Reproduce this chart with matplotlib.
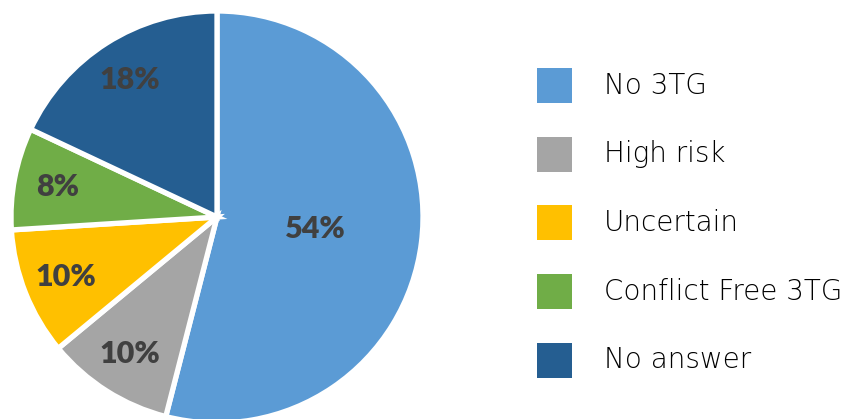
import matplotlib
matplotlib.use("Agg")
import matplotlib.pyplot as plt
from matplotlib.patches import Rectangle
import numpy as np

# data
categories = ["No 3TG", "High risk", "Uncertain", "Conflict Free 3TG", "No answer"]
shares = [54, 10, 10, 8, 18]
colors = ["#5B9BD5", "#A5A5A5", "#FFC000", "#70AD47", "#255E91"]

W, H = 865, 419
fig = plt.figure(figsize=(W / 100, H / 100), dpi=100)
ax = fig.add_axes([0, 0, 1, 1])

cx, cy, r = 217, H - 217, 206
wedges, _ = ax.pie(shares, colors=colors, startangle=90, counterclock=False,
                   center=(cx, cy), radius=r, frame=True,
                   wedgeprops=dict(edgecolor="white", linewidth=3.8))
ax.set_xlim(0, W); ax.set_ylim(0, H)
ax.set_aspect("equal")
ax.axis("off")

# percentage labels, big slice placed nearer the centre
for i, (w, v) in enumerate(zip(wedges, shares)):
    mid = np.deg2rad((w.theta1 + w.theta2) / 2)
    d = 0.48 if v > 50 else 0.79
    ax.text(cx + d * r * np.cos(mid), cy + d * r * np.sin(mid), f"{v}%",
            ha="center", va="center", fontsize=22, fontweight="heavy",
            family="Lato", color="#404040")

# legend, drawn by hand
for i, (lab, col) in enumerate(zip(categories, colors)):
    yc = H - (85.5 + i * 68.75)
    ax.add_patch(Rectangle((537, yc - 17.5), 35, 35, facecolor=col, edgecolor="none"))
    ax.text(604, yc, lab, ha="left", va="center", fontsize=20,
            family="DejaVu Sans", fontweight="light", color="#000000")

fig.savefig("out.png", dpi=100)
